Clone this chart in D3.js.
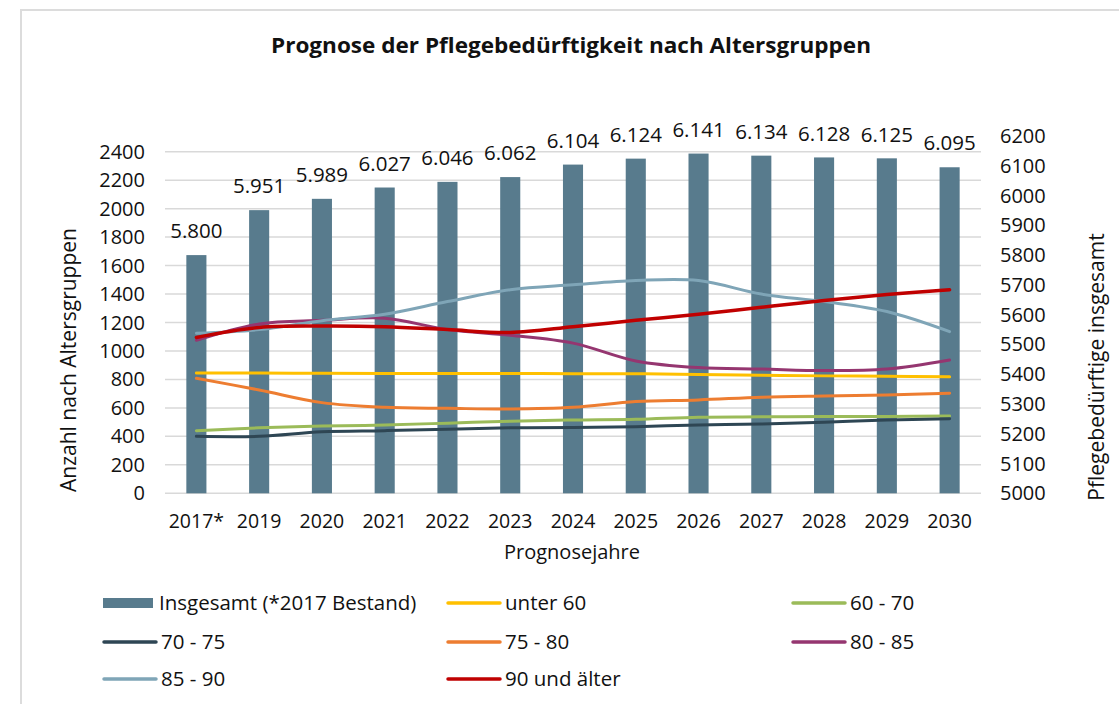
<!DOCTYPE html>
<html>
<head>
<meta charset="utf-8">
<script src="https://cdn.jsdelivr.net/npm/d3@7"></script>
<style>
body { margin: 0; background: #fff; }
svg text { font-family: "Open Sans", "Noto Sans", sans-serif; fill: #111; }
.grid line { stroke: #d9d9d9; stroke-width: 1.5px; }
.series { fill: none; stroke-linecap: round; }
</style>
</head>
<body>
<script>
// Werte
var years = ["2017*", "2019", "2020", "2021", "2022", "2023", "2024", "2025", "2026", "2027", "2028", "2029", "2030"];
var total = [5800, 5951, 5989, 6027, 6046, 6062, 6104, 6124, 6141, 6134, 6128, 6125, 6095];

var unter60 = [845, 845, 843, 842, 842, 842, 840, 840, 835, 830, 825, 822, 818];
var a60_70  = [440, 460, 472, 480, 493, 507, 515, 520, 535, 537, 540, 540, 543];
var a70_75  = [400, 400, 432, 440, 450, 460, 462, 468, 480, 487, 500, 515, 524];
var a75_80  = [808, 726, 637, 604, 597, 592, 604, 645, 656, 675, 684, 691, 703];
var a80_85  = [1075, 1190, 1215, 1230, 1150, 1110, 1055, 930, 883, 873, 862, 873, 937];
var a85_90  = [1125, 1150, 1213, 1258, 1347, 1430, 1465, 1495, 1495, 1400, 1347, 1277, 1136];
var a90plus = [1095, 1165, 1175, 1170, 1150, 1130, 1170, 1215, 1258, 1307, 1354, 1396, 1430];

var leftTicks = [0, 200, 400, 600, 800, 1000, 1200, 1400, 1600, 1800, 2000, 2200, 2400];
var rightTicks = [5000, 5100, 5200, 5300, 5400, 5500, 5600, 5700, 5800, 5900, 6000, 6100, 6200];

var series = [
    {name: "unter 60",     values: unter60, color: "#ffc000", width: 3},
    {name: "60 - 70",      values: a60_70,  color: "#9bbb59", width: 3},
    {name: "70 - 75",      values: a70_75,  color: "#2e4654", width: 3},
    {name: "75 - 80",      values: a75_80,  color: "#ed7d31", width: 3},
    {name: "80 - 85",      values: a80_85,  color: "#953670", width: 3},
    {name: "85 - 90",      values: a85_90,  color: "#7fa5b7", width: 3},
    {name: "90 und älter", values: a90plus, color: "#c00000", width: 3.5}
];

var width = 1119, height = 704;
var barColor = "#587b8d";

var svg = d3.select("body").append("svg")
    .attr("width", width)
    .attr("height", height);

// Rahmen (nur oben und links sichtbar)
svg.append("path")
    .attr("d", "M21,704 V10 H1119")
    .attr("fill", "none")
    .attr("stroke", "#dcdcdc")
    .attr("stroke-width", 2);

svg.append("text")
    .attr("x", 571)
    .attr("y", 53)
    .attr("text-anchor", "middle")
    .attr("textLength", 600)
    .attr("lengthAdjust", "spacingAndGlyphs")
    .style("font-size", "21px")
    .style("font-weight", "bold")
    .text("Prognose der Pflegebedürftigkeit nach Altersgruppen");

var x = d3.scaleBand().domain(years).range([165, 981]).paddingInner(0.68).paddingOuter(0.34);
var yL = d3.scaleLinear().domain([0, 2400]).range([493.3, 151.7]);
var yR = d3.scaleLinear().domain([5000, 6200]).range([493.3, 136]);

// Gitterlinien
svg.append("g").attr("class", "grid")
    .selectAll("line")
    .data(leftTicks)
    .enter().append("line")
    .attr("x1", 165).attr("x2", 981)
    .attr("y1", d => yL(d)).attr("y2", d => yL(d));

// linke Achse
svg.append("g").selectAll("text")
    .data(leftTicks)
    .enter().append("text")
    .attr("x", 145)
    .attr("y", d => yL(d))
    .attr("dy", "0.35em")
    .attr("text-anchor", "end")
    .style("font-size", "20px")
    .text(d => d);

// rechte Achse
svg.append("g").selectAll("text")
    .data(rightTicks)
    .enter().append("text")
    .attr("x", 1000)
    .attr("y", d => yR(d))
    .attr("dy", "0.35em")
    .style("font-size", "20px")
    .text(d => d);

// Achsentitel
svg.append("text")
    .attr("transform", "translate(76,360) rotate(-90)")
    .attr("text-anchor", "middle")
    .style("font-size", "21px")
    .text("Anzahl nach Altersgruppen");

svg.append("text")
    .attr("transform", "translate(1104,367) rotate(-90)")
    .attr("text-anchor", "middle")
    .style("font-size", "21px")
    .text("Pflegebedürftige insgesamt");

// x-Achse
svg.append("g").selectAll("text")
    .data(years)
    .enter().append("text")
    .attr("x", d => x(d) + x.bandwidth() / 2)
    .attr("y", 521)
    .attr("dy", "0.35em")
    .attr("text-anchor", "middle")
    .style("font-size", "19.5px")
    .text(d => d);

svg.append("text")
    .attr("x", 572)
    .attr("y", 552)
    .attr("dy", "0.35em")
    .attr("text-anchor", "middle")
    .style("font-size", "20px")
    .text("Prognosejahre");

// Säulen
svg.append("g").selectAll("rect")
    .data(total)
    .enter().append("rect")
    .attr("x", (d, i) => x(years[i]))
    .attr("y", d => yR(d))
    .attr("width", x.bandwidth())
    .attr("height", d => yR(5000) - yR(d))
    .attr("fill", barColor);

// Datenbeschriftung
var fmt = d3.formatLocale({decimal: ",", thousands: ".", grouping: [3], currency: ["", "€"]}).format(",");
svg.append("g").selectAll("text")
    .data(total)
    .enter().append("text")
    .attr("x", (d, i) => x(years[i]) + x.bandwidth() / 2)
    .attr("y", d => yR(d) - 24)
    .attr("dy", "0.35em")
    .attr("text-anchor", "middle")
    .style("font-size", "20.5px")
    .text(d => fmt(d));

// Linien
var line = d3.line()
    .x((d, i) => x(years[i]) + x.bandwidth() / 2)
    .y(d => yL(d))
    .curve(d3.curveCatmullRom.alpha(0.5));

svg.append("g").selectAll("path")
    .data(series)
    .enter().append("path")
    .attr("class", "series")
    .attr("d", d => line(d.values))
    .attr("stroke", d => d.color)
    .attr("stroke-width", d => d.width);

// Legende
var legendItems = [{name: "Insgesamt (*2017 Bestand)", bar: true}].concat(series);
var colX = [103, 447, 792];
var rowY = [603, 642, 679];

var leg = svg.append("g").selectAll("g")
    .data(legendItems)
    .enter().append("g")
    .attr("transform", (d, i) => "translate(" + colX[i % 3] + "," + rowY[Math.floor(i / 3)] + ")");

leg.filter(d => d.bar).append("rect")
    .attr("x", 0).attr("y", -5)
    .attr("width", 50).attr("height", 10)
    .attr("fill", barColor);

leg.filter(d => !d.bar).append("line")
    .attr("x1", 1).attr("x2", 53)
    .attr("stroke", d => d.color)
    .attr("stroke-width", 3.5)
    .attr("stroke-linecap", "round");

leg.append("text")
    .attr("x", d => d.bar ? 56 : 58)
    .attr("dy", "0.35em")
    .style("font-size", "20.5px")
    .text(d => d.name);
</script>
</body>
</html>
